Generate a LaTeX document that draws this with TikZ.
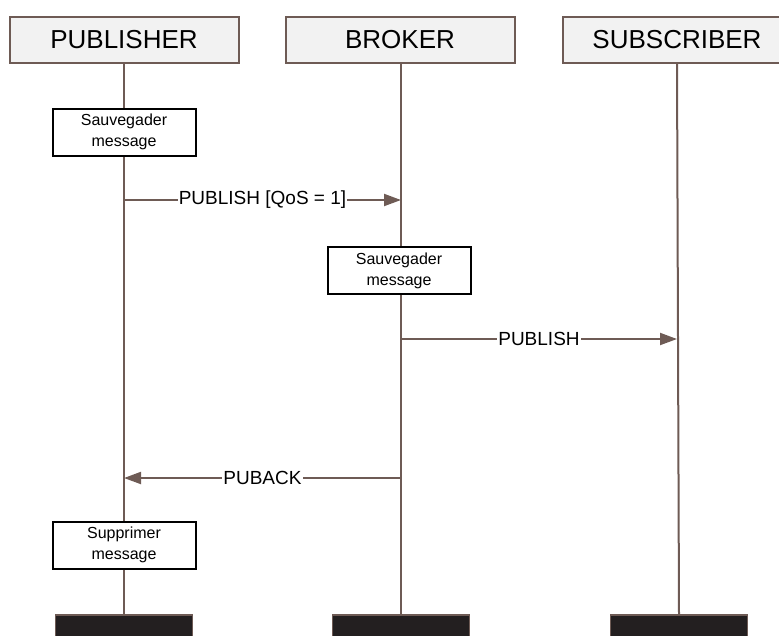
\documentclass[tikz,border=0pt]{standalone}
\usepackage{fontspec}
\setmainfont{Liberation Sans}
\usetikzlibrary{arrows.meta}
\definecolor{lifebrown}{HTML}{6E5B55}
\definecolor{headgray}{HTML}{F2F2F2}
\definecolor{barblack}{HTML}{231F20}

\begin{document}
\begin{tikzpicture}[x=1pt,y=-1pt,>={Triangle[length=17pt,width=12pt]},
  head node/.style={rectangle,draw=lifebrown,fill=headgray,line width=2pt,minimum width=229pt,minimum height=46pt,font=\fontsize{26}{30}\selectfont},
  end node/.style={rectangle,draw=lifebrown,fill=barblack,line width=1.5pt,minimum width=137pt,minimum height=24pt},
  task node/.style={rectangle,draw=black,fill=white,line width=2pt,minimum width=143pt,minimum height=47pt,align=center,font=\fontsize{16}{21}\selectfont},
  life/.style={draw=lifebrown,line width=2pt},
  msg/.style={draw=lifebrown,line width=2pt,->},
  msg label/.style={fill=white,inner sep=1pt,font=\fontsize{19}{22}\selectfont}]

 \useasboundingbox (0,0) rectangle (779,635);

 % lifelines
 \node[head node] (pub) at (124,39.5) {PUBLISHER};
 \node[head node] (brk) at (400,39.5) {BROKER};
 \node[head node] (sub) at (677,39.5) {SUBSCRIBER};

 \node[end node] (pubend) at (124,627) {};
 \node[end node] (brkend) at (401,627) {};
 \node[end node] (subend) at (679,627) {};

 \path[life] (124,63) -- (pubend.north);
 \path[life] (401,63) -- (brkend.north);
 \path[life] (677,63) -- (subend.north);

 % actions
 \node[task node] (save1) at (124,132) {Sauvegader\\message};
 \node[task node] (save2) at (399,270.5) {Sauvegader\\message};
 \node[task node] (del1) at (124,545) {Supprimer\\message};

 % messages
 \coordinate (a1) at (124,200);
 \coordinate (b1) at (401,200);
 \coordinate (b2) at (401,339);
 \coordinate (c2) at (677,339);
 \coordinate (b3) at (401,478);
 \coordinate (a3) at (124,478);

 \path[msg] (a1) -- node[msg label] {PUBLISH [QoS = 1]} (b1);
 \path[msg] (b2) -- node[msg label] {PUBLISH} (c2);
 \path[msg] (b3) -- node[msg label] {PUBACK} (a3);

\end{tikzpicture}
\end{document}
